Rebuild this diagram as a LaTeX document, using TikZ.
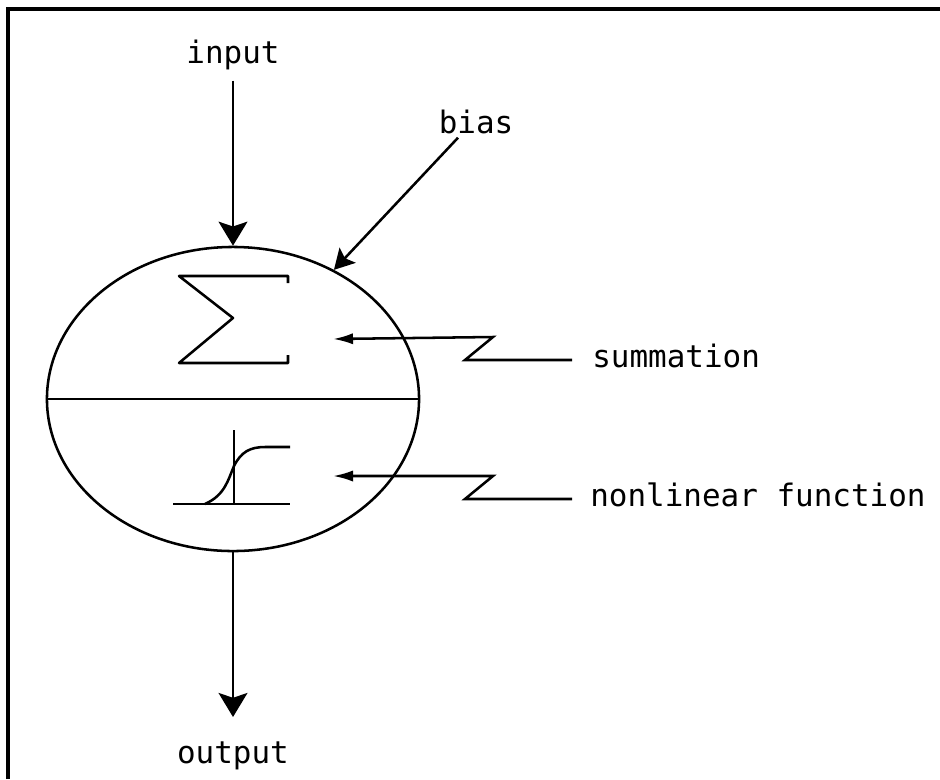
\documentclass[tikz,border=0pt]{standalone}
\usepackage{fontspec}
\newfontfamily\plotterfont{DejaVu Sans Mono}
\usetikzlibrary{shapes.geometric, arrows.meta, positioning, calc}
\tikzset{
    neuron/.style={ellipse, draw=black, line width=1.8pt, minimum width=9.3cm, minimum height=7.6cm, inner sep=0pt},
    lbl/.style={inner sep=0pt, font=\plotterfont\fontsize{22}{26}\selectfont},
    sidelbl/.style={lbl, anchor=west, text height=0.35cm, text depth=0pt},
    flow/.style={line width=1.8pt, -{Stealth[length=0.6cm, width=0.72cm, inset=0.12cm]}},
    biasflow/.style={line width=1.8pt, -{Stealth[length=0.5cm, width=0.55cm, inset=0.1cm]}},
    pointer/.style={line width=1.8pt, -{Latex[length=0.5cm, width=0.28cm]}},
    glyph/.style={line width=1.8pt, line join=round}
}

\begin{document}
\begin{tikzpicture}[x=0.025cm, y=-0.025cm]
        \useasboundingbox (0,0) rectangle (940,779);
        % Frame (top and left edges only)
        \draw[line width=2.4pt] (8,779) -- (8,9) -- (940,9);

        % Neuron
        \node (neuron) [neuron] at (233,399) {};
        \draw[line width=1.8pt] (neuron.west) -- (neuron.east); % divider

        % Summation sign
        \draw[glyph] (288,283) -- (288,276) -- (179,276) -- (233,318) -- (179,363) -- (288,363) -- (288,355);

        % Nonlinear function
        \draw[glyph] (173,504) -- (290,504); % axis
        \draw[glyph] (234,430) -- (234,505); % axis
        \draw[glyph] (205,504) .. controls (225,495) and (228,480) .. (234,466)
                               .. controls (241,452) and (250,447) .. (265,447) -- (290,447);

        % Labels
        \node (input) [lbl, anchor=base] at (233,63) {input};
        \node (output) [lbl, anchor=base] at (233,763) {output};
        \node (bias) [lbl, anchor=base] at (476,133) {bias};
        \node (sumlbl) [sidelbl] at (592,360) {summation};
        \node (funlbl) [sidelbl] at (590,499) {nonlinear function};

        % Leader tips
        \coordinate (sumtip) at (333,339);
        \coordinate (funtip) at (333,476);

        % Connections
        \draw[flow, shorten <=0.27cm] (input.south) -- (neuron.north);
        \draw[flow, shorten >=0.6cm] (neuron.south) -- (output.north);
        \draw[biasflow] ([xshift=-0.45cm, yshift=-0.1cm]bias.south) -- (neuron.52);
        \draw[pointer] (sumlbl.west) ++(-20,0) -- ++(-107,0) -- ++(28,-23) -- (sumtip);
        \draw[pointer] (funlbl.west) ++(-18,0) -- ++(-107,0) -- ++(28,-23) -- (funtip);
    \end{tikzpicture}
\end{document}
